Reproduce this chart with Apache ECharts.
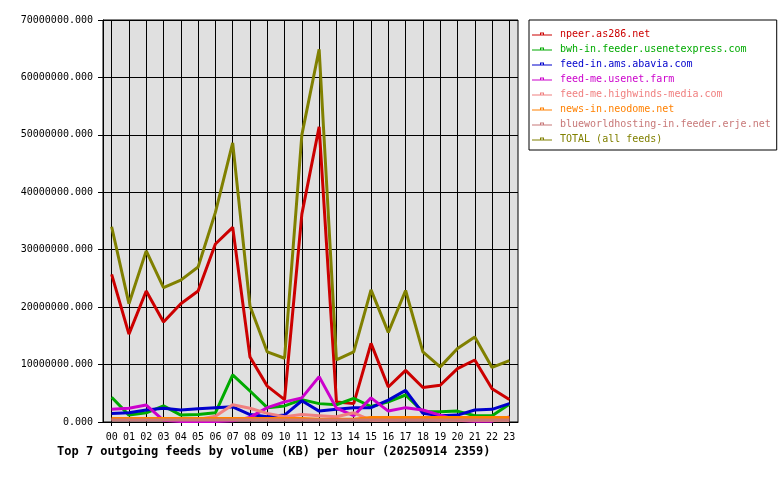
<!DOCTYPE html>
<html>
<head>
<meta charset="utf-8">
<script src="https://cdn.jsdelivr.net/npm/echarts@6/dist/echarts.min.js"></script>
<style>
  html, body { margin: 0; padding: 0; background: #fff; }
  #chart { width: 780px; height: 480px; }
</style>
</head>
<body>
<div id="chart"></div>
<script>
// hours of the day
const hours = ['00','01','02','03','04','05','06','07','08','09','10','11',
               '12','13','14','15','16','17','18','19','20','21','22','23']

// KB per hour, in millions
const npeer      = [25.7, 15.3, 22.8, 17.4, 20.6, 22.8, 31.0, 33.9, 11.3, 6.25, 3.9, 36.2, 51.4, 3.5, 3.2, 13.7, 6.1, 9.0, 6.0, 6.4, 9.3, 10.8, 5.8, 3.9]
const bwh        = [4.3, 1.2, 1.6, 2.8, 1.2, 1.3, 1.6, 8.2, 5.4, 2.5, 2.8, 3.9, 3.2, 3.0, 4.1, 2.7, 3.5, 4.7, 1.8, 1.8, 1.9, 1.1, 1.1, 3.1]
const abavia     = [1.5, 1.6, 2.1, 2.4, 2.1, 2.3, 2.5, 2.65, 1.3, 0.9, 1.2, 3.7, 1.9, 2.2, 2.5, 2.5, 3.8, 5.5, 1.5, 1.1, 1.2, 2.1, 2.2, 3.2]
const usenetFarm = [2.2, 2.4, 2.95, 0.3, 0.1, 0.1, 0.1, 0.2, 0.8, 2.5, 3.5, 4.2, 7.9, 2.4, 1.1, 4.2, 1.9, 2.5, 2.1, 1.2, 0.3, 0.15, 0.15, 0.9]
const highwinds  = [0.45, 0.45, 0.45, 0.45, 0.45, 0.45, 1.0, 3.0, 2.4, 1.5, 0.9, 1.3, 1.1, 0.9, 1.6, 0.3, 0.3, 0.4, 0.4, 0.3, 0.3, 0.3, 0.3, 0.3]
const neodome    = [0.6, 0.6, 0.6, 0.6, 0.6, 0.6, 0.6, 0.6, 0.6, 0.6, 0.6, 0.6, 0.5, 0.5, 0.5, 0.8, 0.8, 0.8, 0.8, 0.8, 0.8, 0.8, 0.8, 0.8]
const blueworld  = [0.35, 0.35, 0.35, 0.35, 0.35, 0.35, 0.35, 0.35, 0.35, 0.35, 0.35, 0.35, 0.35, 0.35, 0.35, 0.35, 0.35, 0.35, 0.35, 0.35, 0.35, 0.35, 0.35, 0.35]
const total      = [34.0, 20.6, 29.8, 23.4, 24.7, 27.0, 36.5, 48.6, 20.2, 12.2, 11.1, 50.0, 64.9, 10.8, 12.2, 23.0, 15.6, 22.9, 12.2, 9.6, 12.8, 14.8, 9.5, 10.7]

const feedNames = [
  'npeer.as286.net',
  'bwh-in.feeder.usenetexpress.com',
  'feed-in.ams.abavia.com',
  'feed-me.usenet.farm',
  'feed-me.highwinds-media.com',
  'news-in.neodome.net',
  'blueworldhosting-in.feeder.erje.net',
  'TOTAL (all feeds)'
]
const feedValues = [npeer, bwh, abavia, usenetFarm, highwinds, neodome, blueworld, total]
const feedColors = ['#cc0000', '#00aa00', '#0000cc', '#cc00cc', '#f08080', '#ff8000', '#c87878', '#808000']

const yTicks = { min: 0, max: 70000000, interval: 10000000 }

const MONO = '"DejaVu Sans Mono", "Liberation Mono", monospace'

// legend marker: thin line with a small hollow square in the middle
const legendIcon = 'path://M0,2H8V3H0Z M12,2H20V3H12Z M8,0H12V1H8Z M8,0H9V2H8Z M11,0H12V2H11Z M8,2H12V3H8Z'

const chart = echarts.init(document.getElementById('chart'))

chart.setOption({
  animation: false,
  backgroundColor: '#fff',
  title: {
    text: 'Top 7 outgoing feeds by volume (KB) per hour (20250914 2359)',
    left: 57,
    top: 446,
    padding: 0,
    textStyle: { fontFamily: MONO, fontSize: 12, fontWeight: 'bold', color: '#000' }
  },
  legend: {
    orient: 'vertical',
    left: 529,
    top: 20,
    padding: [8, 6, 5, 3],
    borderColor: '#000',
    borderWidth: 1,
    itemWidth: 20,
    itemHeight: 3,
    itemGap: 3,
    icon: legendIcon,
    selectedMode: false,
    textStyle: { fontFamily: MONO, fontSize: 10, lineHeight: 12, padding: [0, 0, 0, 3] },
    data: feedNames.map((n, i) => ({ name: n, textStyle: { color: feedColors[i] } }))
  },
  grid: {
    left: 103,
    right: 262,
    top: 20,
    bottom: 58,
    show: true,
    backgroundColor: '#e0e0e0',
    borderColor: '#000',
    borderWidth: 1
  },
  xAxis: {
    type: 'category',
    data: hours,
    boundaryGap: true,
    axisLine: { lineStyle: { color: '#000', width: 1 } },
    axisTick: { show: true, alignWithLabel: true, length: 4, lineStyle: { color: '#000' } },
    splitLine: { show: true, alignWithLabel: true, interval: 0, lineStyle: { color: '#000', width: 1 } },
    axisLabel: { interval: 0, margin: 10, fontFamily: MONO, fontSize: 10, color: '#000' }
  },
  yAxis: {
    type: 'value',
    min: yTicks.min,
    max: yTicks.max,
    interval: yTicks.interval,
    axisLine: { show: true, lineStyle: { color: '#000', width: 1 } },
    axisTick: { show: true, length: 5, lineStyle: { color: '#000' } },
    splitLine: { show: true, lineStyle: { color: '#000', width: 1 } },
    axisLabel: {
      margin: 10,
      fontFamily: MONO,
      fontSize: 10,
      color: '#000',
      formatter: v => v.toFixed(3)
    }
  },
  series: feedNames.map((n, i) => ({
    name: n,
    type: 'line',
    data: feedValues[i].map(v => v * 1e6),
    showSymbol: false,
    symbol: 'none',
    color: feedColors[i],
    lineStyle: { width: 3, color: feedColors[i] },
    emphasis: { disabled: true }
  }))
})
</script>
</body>
</html>
